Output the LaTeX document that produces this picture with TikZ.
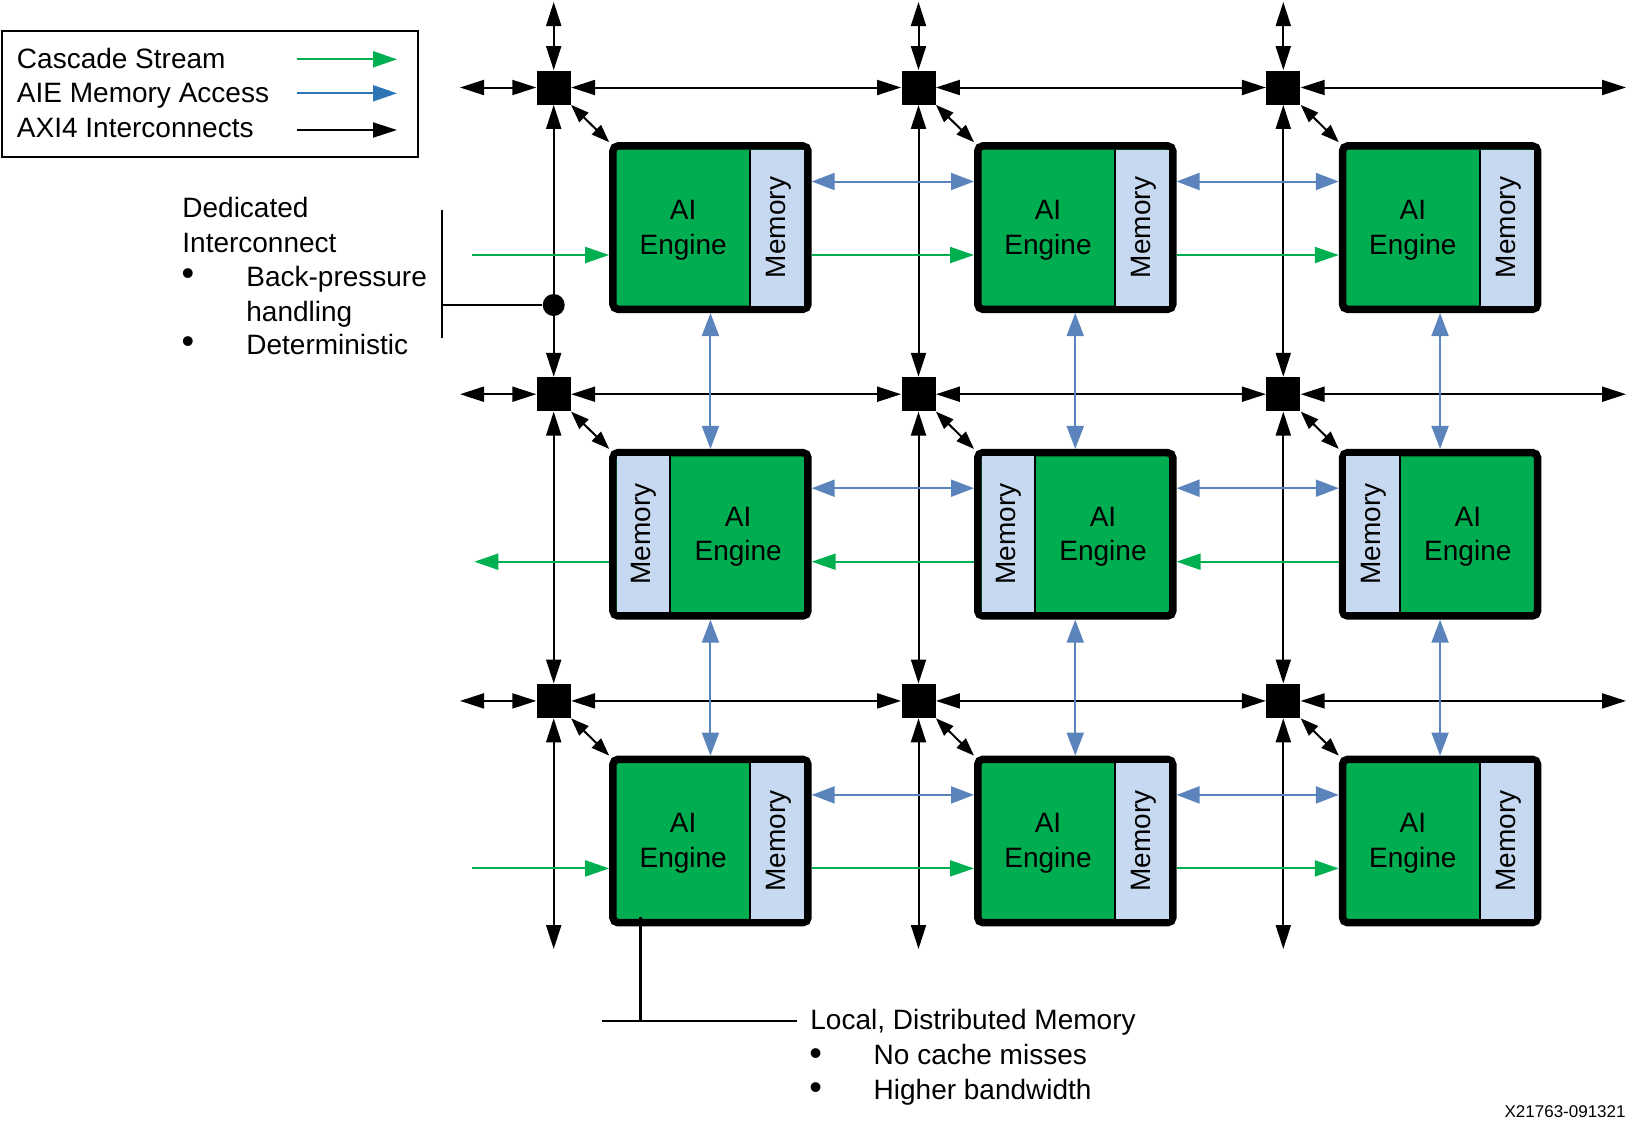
\documentclass[tikz,border=0pt]{standalone}
\usepackage{fontspec}
\setmainfont{Liberation Sans}
\usetikzlibrary{arrows.meta,calc}
\definecolor{aigreen}{RGB}{0,173,80}
\definecolor{cgreen}{RGB}{0,176,80}
\definecolor{memblue}{RGB}{198,217,240}
\definecolor{mblue}{RGB}{91,132,189}
\definecolor{lblue}{RGB}{46,117,182}
\begin{document}
\begin{tikzpicture}[x=0.5pt,y=-0.5pt,
  txt/.style={font=\fontsize{14}{17.25}\selectfont, inner sep=0},
  bul/.style={font=\fontsize{18}{18}\selectfont, inner sep=0},
  sw/.style={fill=black, minimum size=17pt, inner sep=0, draw=none},
  engine/.style={draw=black, fill=aigreen, line width=3.75pt, rounded corners=2.5pt,
    minimum width=97.5pt, minimum height=81.65pt, inner sep=0},
  axi/.style={line width=1pt, {Triangle[length=12pt,width=7.5pt]}-{Triangle[length=12pt,width=7.5pt]}},
  diag/.style={line width=1pt, {Triangle[length=9pt,width=6.5pt]}-{Triangle[length=9pt,width=6.5pt]}},
  mem/.style={draw=mblue, line width=1pt, {Triangle[length=11.5pt,width=8.5pt]}-{Triangle[length=11.5pt,width=8.5pt]}},
  cas/.style={draw=cgreen, line width=1pt, -{Triangle[length=12pt,width=8pt]}},
  brk/.style={line width=1.2pt}
]
\useasboundingbox (0,0) rectangle (1638,1131);

% ---------- tiles ----------
\foreach \i in {0,1,2} {
  \foreach \j in {0,1,2} {
    \pgfmathsetmacro\X{553.7+364.8*\i}
    \pgfmathsetmacro\Y{87.5+306.7*\j}
    \node[sw] (s\i\j) at (\X,\Y) {};
    \node[engine] (e\i\j) at (\X+156.75,\Y+140.1) {};
    \ifnum\j=1
      \fill[memblue] (\X+63,\Y+62.2) rectangle (\X+116.5,\Y+218);
      \draw[line width=1.25pt] (\X+116.5,\Y+62.2) -- (\X+116.5,\Y+218);
      \node[txt, align=center] (t\i\j) at (\X+184.5,\Y+142.6) {AI\\Engine};
      \node[txt, rotate=90] (m\i\j) at (\X+90.5,\Y+140) {Memory};
    \else
      \fill[memblue] (\X+196.5,\Y+62.2) rectangle (\X+250.5,\Y+218);
      \draw[line width=1.25pt] (\X+196.5,\Y+62.2) -- (\X+196.5,\Y+218);
      \node[txt, align=center] (t\i\j) at (\X+129.5,\Y+142.6) {AI\\Engine};
      \node[txt, rotate=90] (m\i\j) at (\X+225.3,\Y+140) {Memory};
    \fi
  }
}

% ---------- AXI4 interconnects ----------
\foreach \j in {0,1,2} {
  \pgfmathsetmacro\Y{87.5+306.7*\j}
  \coordinate (L\j) at (460,\Y);
  \coordinate (R\j) at (1626,\Y);
  \draw[axi] (L\j) -- (s0\j.west);
  \draw[axi] (s0\j.east) -- (s1\j.west);
  \draw[axi] (s1\j.east) -- (s2\j.west);
  \draw[axi] (s2\j.east) -- (R\j);
}
\foreach \i in {0,1,2} {
  \pgfmathsetmacro\X{553.7+364.8*\i}
  \coordinate (T\i) at (\X,2);
  \coordinate (B\i) at (\X,949);
  \draw[axi] (T\i) -- (s\i0.north);
  \draw[axi] (s\i0.south) -- (s\i1.north);
  \draw[axi] (s\i1.south) -- (s\i2.north);
  \draw[axi] (s\i2.south) -- (B\i);
  \foreach \j in {0,1,2} {
    \draw[diag] (s\i\j.south east) -- (e\i\j.north west);
  }
}

% ---------- memory access ----------
\foreach \j in {0,1,2} {
  \foreach \i in {0,1} {
    \pgfmathtruncatemacro\k{\i+1}
    \draw[mem] ([yshift=23.05pt]e\i\j.east) -- ([yshift=23.05pt]e\k\j.west);
  }
}
\foreach \i in {0,1,2} {
  \foreach \j in {0,1} {
    \pgfmathtruncatemacro\k{\j+1}
    \draw[mem] (e\i\j.south) -- (e\i\k.north);
  }
}

% ---------- cascade stream ----------
\foreach \j in {0,2} {
  \pgfmathsetmacro\Y{87.5+306.7*\j}
  \coordinate (G\j) at (472.3,\Y+167.5);
  \draw[cas] (G\j) -- ([yshift=-13.7pt]e0\j.west);
  \draw[cas] ([yshift=-13.7pt]e0\j.east) -- ([yshift=-13.7pt]e1\j.west);
  \draw[cas] ([yshift=-13.7pt]e1\j.east) -- ([yshift=-13.7pt]e2\j.west);
}
\coordinate (G1) at (474.3,561.7);
\draw[cas] ([yshift=-13.7pt]e21.west) -- ([yshift=-13.7pt]e11.east);
\draw[cas] ([yshift=-13.7pt]e11.west) -- ([yshift=-13.7pt]e01.east);
\draw[cas] ([yshift=-13.7pt]e01.west) -- (G1);

% ---------- legend ----------
\draw[line width=0.8pt] (2,30.7) rectangle (418,156.7);
\node[txt, anchor=base west] (lt1) at (16.6,68) {Cascade Stream};
\node[txt, anchor=base west] (lt2) at (16.6,102.5) {AIE Memory Access};
\node[txt, anchor=base west] (lt3) at (16.6,137.5) {AXI4 Interconnects};
\coordinate (la1) at (297,59.3);  \coordinate (lb1) at (397,59.3);
\coordinate (la2) at (297,93.3);  \coordinate (lb2) at (397,93.3);
\coordinate (la3) at (297,130);   \coordinate (lb3) at (397,130);
\draw[cas] (la1) -- (lb1);
\draw[draw=lblue, line width=1pt, -{Triangle[length=12pt,width=8pt]}, fill=lblue] (la2) -- (lb2);
\draw[line width=1pt, -{Triangle[length=12pt,width=7.5pt]}] (la3) -- (lb3);

% ---------- dedicated interconnect callout ----------
\node[circle, fill=black, minimum size=11pt, inner sep=0] (dot) at (553.7,305) {};
\coordinate (bt) at (442,210);
\coordinate (bb) at (442,338);
\coordinate (bm) at (442,305);
\draw[brk] (bt) -- (bb);
\draw[brk] (bm) -- (dot);
\node[txt, anchor=base west] (d1) at (182,217.5) {Dedicated};
\node[txt, anchor=base west] (d2) at (182,252.5) {Interconnect};
\node[bul] (d3b) at (188,277) {•};
\node[txt, anchor=base west] (d3) at (246,286) {Back-pressure};
\node[txt, anchor=base west] (d4) at (246,321) {handling};
\node[bul] (d5b) at (188,345) {•};
\node[txt, anchor=base west] (d5) at (246,354) {Deterministic};

% ---------- local memory callout ----------
\coordinate (mt) at (640.3,916.7);
\coordinate (mj) at (640.3,1020.7);
\coordinate (ml) at (601.7,1020.7);
\coordinate (mr) at (796.7,1020.7);
\draw[brk] (mt) -- (mj);
\draw[brk] (ml) -- (mr);
\node[txt, anchor=base west] (lm1) at (810,1029.5) {Local, Distributed Memory};
\node[bul] (lm2b) at (815.7,1056.7) {•};
\node[txt, anchor=base west] (lm2) at (873.3,1064) {No cache misses};
\node[bul] (lm3b) at (815.7,1090.7) {•};
\node[txt, anchor=base west] (lm3) at (873.3,1099) {Higher bandwidth};

% ---------- figure id ----------
\node[font=\fontsize{8.5}{10}\selectfont, inner sep=0, anchor=base east] (fid) at (1626,1117.3) {X21763-091321};
\end{tikzpicture}
\end{document}
